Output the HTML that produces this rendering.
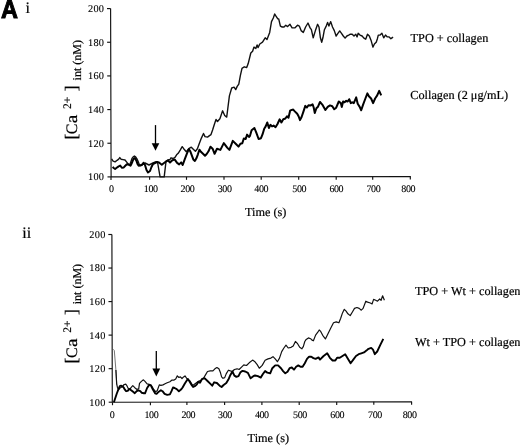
<!DOCTYPE html>
<html><head><meta charset="utf-8"><style>
html,body{margin:0;padding:0;background:#fff;}
body{width:520px;height:445px;overflow:hidden;}
svg{display:block;text-rendering:geometricPrecision;}
text{font-family:'Liberation Serif','Times New Roman',serif;fill:#000;stroke:#000;stroke-width:0.2px;}
.yt{font-size:10.3px;letter-spacing:0.3px;stroke-width:0.1px;}
.xt{font-size:10px;letter-spacing:-0.4px;stroke-width:0.1px;}
.lb{font-size:12.25px;}
.rn{font-size:16px;}
.yl{font-size:16px;}
.ys{font-size:11.5px;}
.yb{font-size:17.5px;}
.ysub{font-size:12px;}
.big{font-family:'Liberation Sans',Arial,sans-serif;font-weight:bold;font-size:25.5px;fill:#000;stroke:#000;stroke-width:1px;}
.ax{stroke:#111;stroke-width:1.15;fill:none;}
.thin{stroke:#111;stroke-width:1.4;fill:none;stroke-linejoin:round;}
.thick{stroke:#000;stroke-width:2.0;fill:none;stroke-linejoin:round;}
.thin2{stroke:#111;stroke-width:1.2;fill:none;stroke-linejoin:round;}
.spike{stroke:#666;stroke-width:0.9;fill:none;}
.thick2{stroke:#000;stroke-width:1.9;fill:none;stroke-linejoin:round;}
</style></head><body>
<svg width="520" height="445" viewBox="0 0 520 445">
<path d="M110.6,8.6 L111.1,176.9 M111.1,176.9 L410.8,176.6" class="ax"/>
<path d="M107.00,8.60 H110.60" class="ax"/>
<text x="104.3" y="12.0" class="yt" text-anchor="end">200</text>
<path d="M107.10,42.26 H110.70" class="ax"/>
<text x="104.3" y="45.7" class="yt" text-anchor="end">180</text>
<path d="M107.20,75.92 H110.80" class="ax"/>
<text x="104.3" y="79.3" class="yt" text-anchor="end">160</text>
<path d="M107.30,109.58 H110.90" class="ax"/>
<text x="104.3" y="113.0" class="yt" text-anchor="end">140</text>
<path d="M107.40,143.24 H111.00" class="ax"/>
<text x="104.3" y="146.6" class="yt" text-anchor="end">120</text>
<path d="M107.50,176.90 H111.10" class="ax"/>
<text x="104.3" y="180.3" class="yt" text-anchor="end">100</text>
<path d="M111.00,176.90 V179.90" class="ax"/>
<text x="111.2" y="192.3" class="xt" text-anchor="middle">0</text>
<path d="M149.60,176.86 V179.86" class="ax"/>
<text x="150.7" y="192.3" class="xt" text-anchor="middle">100</text>
<path d="M186.50,176.82 V179.82" class="ax"/>
<text x="187.5" y="192.2" class="xt" text-anchor="middle">200</text>
<path d="M224.00,176.79 V179.79" class="ax"/>
<text x="224.6" y="192.2" class="xt" text-anchor="middle">300</text>
<path d="M261.20,176.75 V179.75" class="ax"/>
<text x="261.2" y="192.1" class="xt" text-anchor="middle">400</text>
<path d="M298.70,176.71 V179.71" class="ax"/>
<text x="299.2" y="192.1" class="xt" text-anchor="middle">500</text>
<path d="M336.20,176.67 V179.67" class="ax"/>
<text x="336.3" y="192.1" class="xt" text-anchor="middle">600</text>
<path d="M372.70,176.64 V179.64" class="ax"/>
<text x="373.4" y="192.0" class="xt" text-anchor="middle">700</text>
<path d="M410.30,176.60 V179.60" class="ax"/>
<text x="408.2" y="192.0" class="xt" text-anchor="middle">800</text>
<path d="M111.9,234.5 L112.3,402.2 M112.3,402.2 L411.9,401.8" class="ax"/>
<path d="M108.30,234.50 H111.90" class="ax"/>
<text x="105.6" y="237.9" class="yt" text-anchor="end">200</text>
<path d="M108.38,268.04 H111.98" class="ax"/>
<text x="105.6" y="271.4" class="yt" text-anchor="end">180</text>
<path d="M108.46,301.58 H112.06" class="ax"/>
<text x="105.6" y="305.0" class="yt" text-anchor="end">160</text>
<path d="M108.54,335.12 H112.14" class="ax"/>
<text x="105.6" y="338.5" class="yt" text-anchor="end">140</text>
<path d="M108.62,368.66 H112.22" class="ax"/>
<text x="105.6" y="372.1" class="yt" text-anchor="end">120</text>
<path d="M108.70,402.20 H112.30" class="ax"/>
<text x="105.6" y="405.6" class="yt" text-anchor="end">100</text>
<path d="M112.50,402.20 V405.20" class="ax"/>
<text x="112.0" y="418.1" class="xt" text-anchor="middle">0</text>
<path d="M150.40,402.15 V405.15" class="ax"/>
<text x="151.4" y="418.0" class="xt" text-anchor="middle">100</text>
<path d="M186.90,402.10 V405.10" class="ax"/>
<text x="188.3" y="418.0" class="xt" text-anchor="middle">200</text>
<path d="M224.60,402.05 V405.05" class="ax"/>
<text x="225.0" y="418.0" class="xt" text-anchor="middle">300</text>
<path d="M261.90,402.00 V405.00" class="ax"/>
<text x="261.8" y="417.9" class="xt" text-anchor="middle">400</text>
<path d="M299.20,401.95 V404.95" class="ax"/>
<text x="300.0" y="417.9" class="xt" text-anchor="middle">500</text>
<path d="M336.70,401.90 V404.90" class="ax"/>
<text x="337.2" y="417.8" class="xt" text-anchor="middle">600</text>
<path d="M373.80,401.85 V404.85" class="ax"/>
<text x="375.0" y="417.8" class="xt" text-anchor="middle">700</text>
<path d="M411.60,401.80 V404.80" class="ax"/>
<text x="409.6" y="417.7" class="xt" text-anchor="middle">800</text>
<g transform="translate(76.8,139.6) rotate(-90)">
<text x="0" y="0.4" class="yb">[</text>
<text x="5.4" y="0" class="yl">C</text>
<text x="0" y="0" class="yl" transform="translate(16.3,0) scale(1.2,1.03)">a</text>
<text x="30.6" y="-5.5" class="ys">2+</text>
<text x="48.3" y="0.4" class="yb">]</text>
<text x="59.2" y="4.3" class="ysub">int (nM)</text>
</g>
<g transform="translate(76.8,363.4) rotate(-90)">
<text x="0" y="0.4" class="yb">[</text>
<text x="5.4" y="0" class="yl">C</text>
<text x="0" y="0" class="yl" transform="translate(16.3,0) scale(1.2,1.03)">a</text>
<text x="30.6" y="-5.5" class="ys">2+</text>
<text x="48.3" y="0.4" class="yb">]</text>
<text x="59.2" y="4.3" class="ysub">int (nM)</text>
</g>
<path d="M155.5,125.1 V144.2" stroke="#000" stroke-width="1.3" fill="none"/><path d="M151.7,143.2 L159.3,143.2 L155.5,150.8 Z" fill="#000"/>
<path d="M156.3,351.0 V369.5" stroke="#000" stroke-width="1.3" fill="none"/><path d="M152.4,368.5 L160.20000000000002,368.5 L156.3,376.4 Z" fill="#000"/>
<polyline points="111.6,158.8 113.1,161.1 115.1,161.9 117.1,160.3 118.7,159.2 119.8,157.6 121.0,159.2 123.0,159.6 125.0,160.0 126.5,161.9 128.1,163.9 129.7,165.1 130.8,161.9 132.0,158.4 133.2,156.8 134.4,156.0 135.6,156.8 137.1,159.2 138.3,161.9 139.5,165.1 141.1,165.5 143.0,164.5 145.0,163.0 147.0,164.0 149.0,165.0 151.0,164.0 153.0,163.0 155.5,162.0 157.5,162.0 160.1,176.9 164.2,176.9 166.0,161.5 168.0,160.0 170.0,159.5 171.0,157.8 173.0,158.5 175.0,157.3 176.6,154.8 178.2,153.3 180.2,150.2 182.2,146.7 183.7,148.7 186.3,151.8 188.8,148.7 191.3,147.2 193.3,149.2 195.4,151.3 197.4,148.7 199.4,143.2 201.4,138.1 203.5,133.5 205.0,136.6 207.5,137.1 209.5,135.6 211.0,134.6 212.6,130.0 214.4,124.2 216.0,119.5 217.5,121.5 219.9,118.7 222.6,110.8 224.7,115.5 226.7,117.1 227.8,108.5 229.4,95.9 231.7,88.0 234.1,87.2 235.7,89.6 237.2,86.4 238.8,84.1 240.4,75.4 242.0,68.4 244.3,66.8 246.7,67.6 248.2,63.6 250.8,53.0 252.6,51.2 254.0,47.1 255.8,48.5 257.1,44.9 258.0,47.6 259.8,44.0 262.5,42.2 265.2,37.8 267.0,39.6 269.7,32.4 271.5,21.6 273.3,18.0 274.7,14.0 276.0,16.2 277.8,18.9 278.7,18.9 280.4,26.1 282.2,27.0 284.0,27.0 285.8,25.2 287.6,26.6 290.0,24.3 292.1,27.9 294.8,27.9 297.5,25.2 299.3,26.1 301.1,30.6 303.3,32.4 305.6,27.0 308.0,23.0 310.1,27.9 311.4,29.7 313.2,37.8 315.4,30.6 317.6,24.3 319.0,27.0 320.4,37.8 321.7,42.2 322.9,37.8 324.4,29.7 326.2,26.1 327.6,22.5 328.9,26.1 330.7,21.6 332.5,27.0 334.3,30.6 336.1,36.0 337.9,33.3 339.7,30.9 341.5,33.3 343.3,36.0 345.1,38.1 346.9,36.0 348.7,35.1 350.4,34.2 352.2,34.2 354.0,36.0 355.8,34.2 357.1,36.9 358.2,33.3 360.0,35.1 362.1,36.0 363.9,38.1 365.7,39.2 367.5,34.2 369.3,36.0 371.1,40.4 372.9,47.1 374.4,44.0 376.2,42.2 377.4,38.7 378.3,35.1 380.1,35.1 381.9,33.3 383.7,37.8 385.5,35.1 387.3,36.9 389.1,36.9 390.9,38.7 393.1,37.2" class="thin"/>
<polyline points="112.8,166.8 113.6,168.0 115.1,169.0 116.7,167.8 118.3,166.6 120.2,165.5 121.8,167.8 123.8,167.4 125.3,165.8 126.9,164.3 128.9,164.7 130.5,165.8 131.6,163.5 132.8,160.7 133.6,158.8 134.8,158.0 136.4,160.7 137.5,163.9 138.7,165.8 140.3,165.5 142.3,164.5 143.5,162.7 145.0,165.0 146.5,170.0 148.0,172.5 150.0,171.0 151.5,167.0 153.0,164.0 155.0,163.0 157.0,162.0 159.0,162.5 161.8,164.8 164.0,163.0 166.0,161.5 168.0,160.4 170.0,162.5 172.0,160.5 174.6,159.4 177.1,162.9 179.2,164.4 181.2,162.4 182.7,164.9 184.7,159.4 186.8,153.8 188.8,149.2 190.3,151.3 191.8,155.3 193.3,159.4 194.9,160.9 196.4,158.3 197.9,154.3 199.4,149.7 200.9,151.8 203.0,153.8 205.0,155.8 206.5,154.3 208.5,151.3 210.5,146.7 212.6,148.7 214.6,153.8 217.0,148.8 220.4,149.9 223.8,143.1 227.2,147.6 229.4,149.9 232.8,140.9 236.2,144.3 238.5,146.6 240.4,143.8 242.3,143.3 243.8,138.5 245.7,139.0 247.1,134.6 249.0,137.0 250.0,135.8 251.6,130.3 254.4,128.0 256.3,132.7 258.6,139.0 261.0,138.2 262.6,134.2 264.2,128.7 265.7,126.4 267.3,122.5 268.9,128.0 270.4,124.8 272.0,126.4 273.6,125.6 275.5,127.2 277.5,124.0 279.6,119.3 281.4,122.5 283.3,119.3 285.4,118.5 287.0,116.2 288.5,117.7 290.1,110.7 291.7,109.9 293.2,109.6 294.8,111.4 297.2,113.8 298.7,116.5 300.0,120.1 301.6,117.0 303.5,111.4 305.3,105.9 306.9,107.5 308.5,105.2 310.5,105.5 312.6,104.4 313.7,107.5 314.8,113.0 316.4,108.3 318.0,106.7 320.0,102.0 322.3,104.6 325.4,110.0 327.7,106.9 330.0,105.4 332.3,106.2 334.2,109.2 336.2,107.7 338.8,101.5 340.8,103.1 341.8,106.9 343.1,101.5 344.6,102.3 346.2,100.8 347.7,101.5 349.2,99.2 350.8,103.1 352.3,102.3 353.8,103.1 356.2,97.4 357.7,103.8 359.7,106.9 361.2,110.3 363.1,104.6 365.4,98.5 367.4,93.4 368.9,96.2 371.1,98.5 373.1,103.1 375.1,98.5 377.2,95.4 379.2,90.8 381.2,95.4" class="thick"/>
<polyline points="113.3,349.3 114.3,350.5 115.9,370.0 116.7,384.2" class="spike"/>
<polyline points="115.9,370.0 116.7,384.2 117.5,387.7 118.6,389.7 120.0,388.0 121.4,387.3 122.8,386.0 124.2,384.5 125.7,384.2 126.9,385.7 128.5,388.9 129.8,389.3 131.2,387.3 132.8,385.7 134.8,387.7 136.7,389.3 138.7,388.9 139.5,383.4 141.4,381.4 143.4,379.8 145.0,381.4 147.1,383.8 149.2,384.3 151.3,385.4 153.5,389.1 155.6,391.7 157.2,390.7 159.3,384.9 160.9,385.4 163.0,384.9 165.1,383.8 167.2,382.8 169.9,381.7 172.0,380.1 174.1,380.1 175.7,379.0 177.3,375.9 178.9,377.5 180.4,376.9 182.0,378.5 183.6,376.9 185.0,375.9 186.8,378.5 188.5,380.0 190.0,381.0 192.7,385.5 195.4,383.5 198.1,381.6 200.8,380.3 203.5,378.3 205.5,374.9 207.5,371.5 210.2,370.9 212.9,370.9 214.9,368.8 216.9,367.5 218.9,368.8 220.3,372.2 221.6,376.9 223.0,378.3 224.7,377.6 226.3,373.6 228.4,370.2 230.4,370.9 232.4,371.5 234.4,369.5 237.1,368.8 239.1,369.5 241.8,366.8 243.8,364.8 246.5,365.5 249.2,362.8 252.6,360.1 254.6,361.4 257.2,364.6 259.3,368.2 262.2,365.4 265.1,360.3 268.0,358.9 270.9,358.1 273.0,356.7 275.2,358.9 277.4,361.7 279.5,358.1 281.7,351.6 283.9,348.0 286.0,345.2 288.2,348.0 291.1,347.3 293.2,345.9 295.4,341.5 297.6,343.7 299.7,347.3 301.9,348.8 303.3,346.6 304.8,341.5 306.2,339.4 308.4,337.9 310.6,338.7 312.0,340.1 313.4,340.8 315.6,335.1 317.8,332.2 319.2,330.0 320.7,331.4 322.7,335.3 325.4,338.9 328.1,333.5 330.8,328.1 333.5,322.8 336.2,321.9 338.9,322.8 340.7,318.3 342.5,312.9 344.3,309.3 346.1,311.1 347.9,313.8 350.2,315.6 352.4,312.0 354.5,308.4 356.9,307.5 359.2,308.4 361.3,310.2 363.1,308.4 365.8,301.2 367.6,302.1 370.3,303.0 372.1,303.9 373.6,299.4 375.7,300.3 377.5,301.2 379.7,299.0 381.1,300.3 382.6,295.8 384.4,300.3" class="thin2"/>
<polyline points="113.9,402.2 116.8,393.5 118.3,389.7 119.8,386.1 121.0,385.7 122.6,386.5 123.8,387.7 124.9,389.7 126.1,391.2 127.7,390.8 129.3,388.9 130.8,390.0 132.8,391.6 134.8,393.2 136.7,391.2 138.3,390.4 140.3,391.2 141.8,392.8 143.8,393.2 145.0,393.3 147.1,388.0 149.2,384.9 150.8,385.4 152.9,389.6 155.1,393.3 156.6,393.9 158.8,391.7 160.9,390.2 162.5,391.2 164.6,393.9 167.2,394.9 169.9,394.4 171.5,391.2 173.0,387.5 174.6,388.0 176.7,389.1 178.9,391.2 181.0,389.6 182.6,387.5 184.7,383.8 186.8,380.6 187.9,379.0 189.4,381.2 191.6,384.9 193.1,387.0 195.3,385.9 196.9,384.3 198.4,381.7 200.0,382.8 202.1,378.9 204.8,378.3 207.5,381.0 210.2,383.6 212.2,385.7 214.2,382.3 216.9,383.0 219.6,385.7 221.6,387.0 223.6,385.0 226.3,383.0 228.4,379.6 230.4,374.9 232.4,371.5 234.4,375.6 236.4,376.9 238.5,376.2 240.5,372.2 242.5,370.9 245.2,371.5 247.9,372.9 250.6,378.3 253.3,376.2 255.0,375.5 257.9,376.2 260.8,377.6 262.9,374.0 265.1,371.1 267.3,372.6 270.2,373.3 272.3,368.2 275.2,365.4 278.1,365.4 281.0,368.2 283.1,371.1 285.3,373.3 287.5,371.8 289.6,368.2 291.8,367.5 294.0,369.7 296.1,366.8 298.3,365.4 300.5,366.8 302.6,366.8 304.8,363.2 307.0,358.9 309.1,356.7 311.3,356.7 313.4,358.1 315.6,358.9 318.5,357.4 320.0,359.6 323.6,356.0 327.2,353.3 329.9,357.8 332.6,360.5 335.3,360.5 337.1,357.8 339.8,357.8 342.5,356.0 345.2,354.2 347.9,358.7 350.6,363.2 353.3,359.6 356.0,356.0 358.7,354.2 361.3,353.3 364.0,352.4 366.4,350.6 368.5,348.8 371.2,347.9 373.0,349.7 374.8,354.2 377.2,351.5 380.2,345.2 383.3,338.9" class="thick2"/>
<text x="0" y="0" class="big" transform="translate(0.9,18) scale(0.92,1)">A</text>
<text x="25.6" y="12.7" class="rn">i</text>
<text x="22.3" y="237.6" class="rn">ii</text>
<text x="245" y="216.2" class="lb">Time (s)</text>
<text x="247.6" y="442.3" class="lb">Time (s)</text>
<text x="410.6" y="41.9" class="lb">TPO + collagen</text>
<text x="410.3" y="98.5" class="lb">Collagen (2 μg/mL)</text>
<text x="415" y="295.4" class="lb">TPO + Wt + collagen</text>
<text x="415" y="346.2" class="lb">Wt + TPO + collagen</text>
</svg>
</body></html>
